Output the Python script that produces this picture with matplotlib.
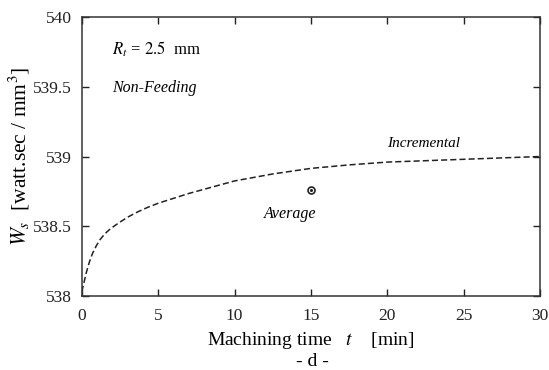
import matplotlib

matplotlib.use("Agg")

import matplotlib.pyplot as plt

# Curva incremental
tempo = [0.0, 0.15, 0.3, 0.5, 0.7, 0.95, 1.2, 1.5, 1.8, 2.1, 2.5, 3.0, 3.6, 4.3, 5.0, 6.0,
         7.0, 8.5, 10.0, 12.5, 15.0, 17.5, 20.0, 22.5, 25.0, 27.5, 30.0]
ws_incremental = [538.03, 538.10, 538.17, 538.245, 538.305, 538.36, 538.405, 538.445, 538.475,
                  538.50, 538.53, 538.565, 538.60, 538.635, 538.665, 538.70,
                  538.735, 538.78, 538.825, 538.875, 538.915, 538.94, 538.96, 538.97, 538.98,
                  538.99, 539.00]

# Ponto médio
tempo_medio = [15.0]
ws_medio = [538.76]

xticks = [0, 5, 10, 15, 20, 25, 30]
yticks = [538, 538.5, 539, 539.5, 540]
ytick_labels = ["538", "538.5", "539", "539.5", "540"]

plt.rcParams["font.family"] = ["Liberation Serif", "DejaVu Serif"]
plt.rcParams["mathtext.fontset"] = "stix"

fig = plt.figure(figsize=(5.49, 3.70), dpi=100)
ax = fig.add_axes([0.149, 0.2, 0.835, 0.754])

ax.plot(tempo, ws_incremental, color="#222222", linewidth=1.1, linestyle=(0, (4, 2)))
ax.plot(tempo_medio, ws_medio, marker="o", markersize=5, markerfacecolor="white",
        markeredgecolor="#222222", markeredgewidth=1.2, linestyle="none")
ax.plot(tempo_medio, ws_medio, marker="o", markersize=1.2, color="#222222", linestyle="none")

ax.set_xlim(0, 30)
ax.set_ylim(538, 540)
ax.set_xticks(xticks)
ax.set_yticks(yticks)
ax.set_yticklabels(ytick_labels)
ax.tick_params(direction="in", top=True, right=True, length=5, width=1,
               labelsize=12.5, colors="#222222")
ax.tick_params(axis="x", pad=9)
ax.tick_params(axis="y", pad=7)
for spine in ax.spines.values():
    spine.set_color("#333333")
    spine.set_linewidth(1.1)

ax.text(2.0, 539.73, r"$R_t$ = $\it{2.5}$  mm", fontsize=12)
ax.text(2.0, 539.46, "Non-Feeding", fontsize=11.5, style="italic")
ax.text(20.0, 539.07, "Incremental", fontsize=11, style="italic")
ax.text(11.9, 538.56, "Average", fontsize=11.5, style="italic")

ax.set_xlabel(r"Machining time   $t$    [min]", fontsize=14, labelpad=4)
fig.text(0.57, 0.01, "- d -", fontsize=14, ha="center")
ax.set_ylabel(r"$W_s$  [watt.sec / mm$^3$]", fontsize=15.5, labelpad=1)

fig.savefig("out.png", dpi=100)
